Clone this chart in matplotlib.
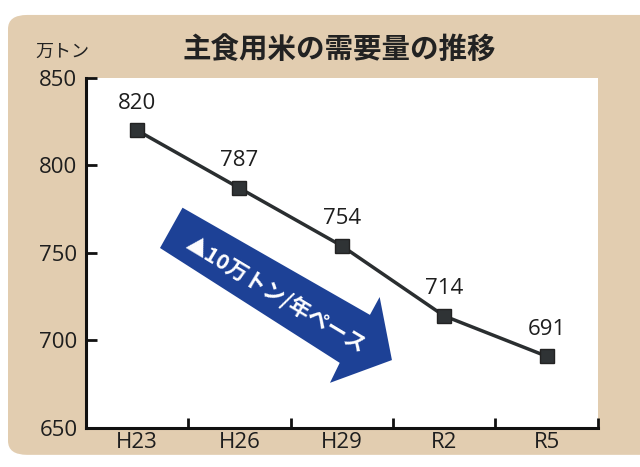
import matplotlib.pyplot as plt
from matplotlib.patches import FancyBboxPatch, Polygon

plt.rcParams['font.family'] = ['Noto Sans CJK JP', 'DejaVu Sans']
num_font = ['Open Sans', 'Noto Sans CJK JP']

# data
years = ["H23", "H26", "H29", "R2", "R5"]
demand = [820, 787, 754, 714, 691]  # 万トン
y_ticks = [650, 700, 750, 800, 850]

title = "主食用米の需要量の推移"
unit = "万トン"
arrow_text = "▲10万トン/年ペース"

tan = "#e2cdb0"
blue = "#1d4196"
dark = "#2a2e30"

fig = plt.figure(figsize=(6.4, 4.67), dpi=100)
fig.patch.set_facecolor("white")

# beige rounded panel behind everything
panel = FancyBboxPatch((0.0125, 0.026), 1.1, 0.942,
                       boxstyle="round,pad=0,rounding_size=0.03",
                       transform=fig.transFigure, facecolor=tan,
                       edgecolor="none", zorder=-1)
fig.patches.append(panel)

ax = fig.add_axes([0.134, 0.0835, 0.8, 0.75])
ax.set_zorder(1)
ax.set_facecolor("white")

x = list(range(len(years)))
ax.plot(x, demand, color=dark, lw=2.5, marker="s", markersize=10,
        markerfacecolor="#2f3335", markeredgecolor="#222222", zorder=3)
for xi, v in zip(x, demand):
    ax.annotate(str(v), (xi, v), xytext=(0, 12), textcoords="offset points",
                ha="center", va="bottom", fontsize=16, color="#1e1e1e",
                family=num_font)

ax.set_xlim(-0.5, len(years) - 0.5)
ax.set_ylim(650, 850)
ax.set_yticks(y_ticks)
ax.set_yticklabels([str(t) for t in y_ticks], fontsize=16, color="#1e1e1e",
                   family=num_font)
# x ticks sit between categories, labels centred
ax.set_xticks([i + 0.5 for i in x])
ax.set_xticklabels([])
ax.set_xticks(x, minor=True)
ax.set_xticklabels(years, minor=True, fontsize=16, color="#1e1e1e",
                   family=num_font)
ax.tick_params(axis="x", which="minor", length=0, pad=3)
ax.tick_params(axis="x", which="major", direction="in", length=7, width=2, color="#111111")
ax.tick_params(axis="y", direction="in", length=8, width=2, color="#111111", pad=6)

for s in ["top", "right"]:
    ax.spines[s].set_visible(False)
for s in ["left", "bottom"]:
    ax.spines[s].set_linewidth(2.2)
    ax.spines[s].set_color("#111111")

# blue arrow (axes fraction)
arrow_pts = [(0.189, 0.629), (0.555, 0.323), (0.574, 0.374), (0.598, 0.194),
             (0.477, 0.129), (0.496, 0.186), (0.145, 0.514)]
ax.add_patch(Polygon(arrow_pts, closed=True, transform=ax.transAxes,
                     facecolor=blue, edgecolor="none", zorder=2))
ax.text(0.372, 0.383, arrow_text, transform=ax.transAxes, rotation=-31,
        rotation_mode="anchor", ha="center", va="center", fontsize=15.5,
        fontweight="bold", color="white", zorder=4)

fig.text(0.53, 0.893, title, ha="center", va="center", fontsize=20.5,
         fontweight="bold", color="#222222")
fig.text(0.098, 0.889, unit, ha="center", va="center", fontsize=13,
         color="#222222")

fig.savefig("out.png", dpi=100, facecolor=fig.get_facecolor())
